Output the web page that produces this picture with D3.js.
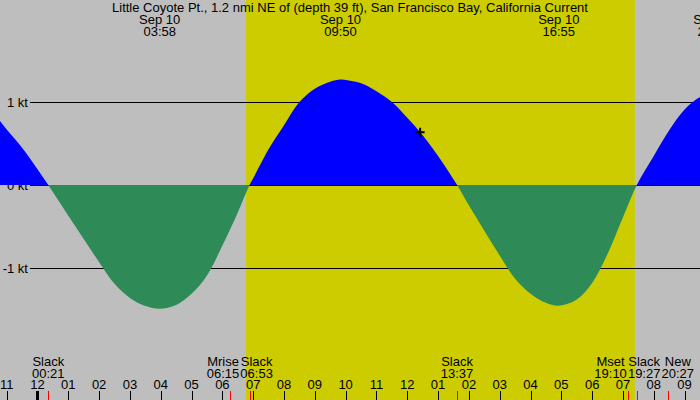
<!DOCTYPE html>
<html>
<head>
<meta charset="utf-8">
<script src="https://cdn.jsdelivr.net/npm/d3@7.9.0/dist/d3.min.js"></script>
<style>
  html, body { margin: 0; padding: 0; background: #bebebe; }
  svg { display: block; font-family: "Liberation Sans", Arial, sans-serif; font-size: 13px; }
</style>
</head>
<body>
<svg id="chart" width="700" height="400"></svg>
<script>
// data
const title = 'Little Coyote Pt., 1.2 nmi NE of (depth 39 ft), San Francisco Bay, California Current';

// current speed in knots ("day HH:MM", Sep 9/10)
const currentTimes = [
  '9 22:00', '9 22:30', '9 23:00', '9 23:30', '10 00:00', '10 00:21',
  '10 01:00', '10 01:30', '10 02:00', '10 02:30', '10 03:00', '10 03:30', '10 03:58',
  '10 04:30', '10 05:00', '10 05:30', '10 06:00', '10 06:30', '10 06:53',
  '10 07:00', '10 07:30', '10 08:00', '10 08:30', '10 09:00', '10 09:30', '10 09:50',
  '10 10:00', '10 10:30', '10 11:00', '10 11:30', '10 12:00', '10 12:30', '10 13:00', '10 13:37',
  '10 14:00', '10 14:30', '10 15:00', '10 15:30', '10 16:00', '10 16:30', '10 16:55',
  '10 17:30', '10 18:00', '10 18:30', '10 19:00', '10 19:27',
  '10 20:00', '10 20:30', '10 21:00', '10 21:30', '10 22:00'
];
const currentKnots = [
  1.02, 0.89, 0.67, 0.45, 0.19, 0,
  -0.37, -0.65, -0.93, -1.19, -1.36, -1.457, -1.49,
  -1.445, -1.31, -1.09, -0.73, -0.33, 0,
  0.08, 0.43, 0.72, 1.00, 1.16, 1.245, 1.27,
  1.265, 1.225, 1.13, 1.00, 0.81, 0.60, 0.35, 0,
  -0.245, -0.55, -0.85, -1.13, -1.31, -1.42, -1.455,
  -1.38, -1.18, -0.83, -0.39, 0,
  0.35, 0.66, 0.91, 1.06, 1.13
];

const knotTicks = [-1, 0, 1];

// maximum flood / ebb labels along the top
const peakDay = 'Sep 10';
const peakTimes = ['10 03:58', '10 09:50', '10 16:55', '10 21:57'];

// slack water and moon events along the bottom
const eventNames = ['Slack', 'Mrise', 'Slack', 'Slack', 'Mset', 'Slack', 'New'];
const eventTimes = ['10 00:21', '10 06:15', '10 06:53', '10 13:37', '10 19:10', '10 19:27', '10 20:27'];

// sunrise / sunset
const daylight = ['10 06:46', '10 19:23'];

// the "+" marker
const nowTime = '10 12:25';
const nowKnots = 0.635;

const W = 700, H = 400;
const parse = d3.timeParse('%d %H:%M');
const fmtHM = d3.timeFormat('%H:%M');

const svg = d3.select('#chart');

const x = d3.scaleTime()
  .domain([parse('9 22:47'), parse('10 21:30')])
  .range([0, W]);
const y = d3.scaleLinear()
  .domain([-1, 1])
  .range([268, 102]);

const series = currentTimes.map((t, i) => ({ t: parse(t), v: currentKnots[i] }));

// background + daylight band
svg.append('rect').attr('width', W).attr('height', H).attr('fill', '#bebebe');
svg.append('rect')
  .attr('x', x(parse(daylight[0])))
  .attr('width', x(parse(daylight[1])) - x(parse(daylight[0])))
  .attr('y', 0).attr('height', H)
  .attr('fill', '#cccc00');

// knot lines and labels
const grid = svg.append('g');
grid.selectAll('line').data(knotTicks).join('line')
  .attr('x1', 30).attr('x2', W)
  .attr('y1', d => Math.round(y(d)) + 0.5)
  .attr('y2', d => Math.round(y(d)) + 0.5)
  .attr('stroke', '#000');
grid.selectAll('text').data(knotTicks).join('text')
  .attr('x', 28).attr('y', d => y(d) + 4.5)
  .attr('text-anchor', 'end')
  .text(d => d + ' kt');

// flood (blue) above zero, ebb (green) below
const defs = svg.append('defs');
defs.append('clipPath').attr('id', 'above')
  .append('rect').attr('x', 0).attr('y', 0).attr('width', W).attr('height', y(0));
defs.append('clipPath').attr('id', 'below')
  .append('rect').attr('x', 0).attr('y', y(0)).attr('width', W).attr('height', H - y(0));

const area = d3.area()
  .x(d => x(d.t))
  .y0(y(0))
  .y1(d => y(d.v))
  .curve(d3.curveCatmullRom.alpha(0.5));

svg.append('path').datum(series)
  .attr('clip-path', 'url(#above)')
  .attr('fill', '#0000ff')
  .attr('d', area);
svg.append('path').datum(series)
  .attr('clip-path', 'url(#below)')
  .attr('fill', '#2e8b57')
  .attr('d', area);

// hour ticks
const hours = d3.timeHour.range(x.domain()[0], x.domain()[1]);
const ticks = svg.append('g');
ticks.selectAll('line').data(hours).join('line')
  .attr('x1', d => Math.round(x(d)) + 0.5)
  .attr('x2', d => Math.round(x(d)) + 0.5)
  .attr('y1', 391).attr('y2', H)
  .attr('stroke', '#000')
  .attr('stroke-width', d => d.getHours() === 0 ? 3 : 1);
ticks.selectAll('text').data(hours).join('text')
  .attr('x', d => x(d))
  .attr('y', 389.4)
  .attr('text-anchor', 'middle')
  .text(d3.timeFormat('%I'));

// event ticks (red) and labels
const events = eventNames.map((n, i) => {
  const t = parse(eventTimes[i]);
  return { name: n, t, cx: x(t) };
});
svg.append('g').selectAll('line').data(events).join('line')
  .attr('x1', d => Math.round(d.cx) + 0.5)
  .attr('x2', d => Math.round(d.cx) + 0.5)
  .attr('y1', 391).attr('y2', H)
  .attr('stroke', '#ff0000');

const evLabels = svg.append('g').selectAll('g').data(events).join('g');
evLabels.append('text').attr('y', 366).attr('text-anchor', 'middle').text(d => d.name);
evLabels.append('text').attr('y', 377.7).attr('text-anchor', 'middle').text(d => fmtHM(d.t));
evLabels.each(function (d) { d.w = this.getBBox().width; });

// push overlapping labels apart
for (let it = 0; it < 60; it++) {
  for (let i = 0; i < events.length - 1; i++) {
    const a = events[i], b = events[i + 1];
    const need = (a.w + b.w) / 2 + 1;
    const gap = b.cx - a.cx;
    if (gap < need) {
      const s = (need - gap) / 2;
      a.cx -= s;
      b.cx += s;
    }
  }
}
evLabels.selectAll('text').attr('x', function () { return d3.select(this.parentNode).datum().cx; });

// title and peak labels
svg.append('text')
  .attr('x', W / 2).attr('y', 12)
  .attr('text-anchor', 'middle')
  .text(title);
const peaks = svg.append('g').selectAll('g').data(peakTimes.map(parse)).join('g');
peaks.append('text').attr('x', d => x(d)).attr('y', 24).attr('text-anchor', 'middle').text(peakDay);
peaks.append('text').attr('x', d => x(d)).attr('y', 36).attr('text-anchor', 'middle').text(fmtHM);

// "+" marker
svg.append('path')
  .attr('transform', `translate(${x(parse(nowTime))},${y(nowKnots)})`)
  .attr('d', 'M-4.5,0H4.5M0,-4.5V4.5')
  .attr('stroke', '#000')
  .attr('stroke-width', 2)
  .attr('fill', 'none');
</script>
</body>
</html>
